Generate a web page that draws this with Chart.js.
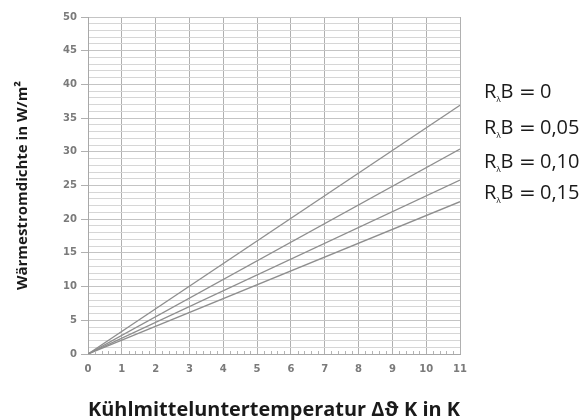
<!DOCTYPE html>
<html>
<head>
<meta charset="utf-8">
<script src="https://cdn.jsdelivr.net/npm/chart.js@4/dist/chart.umd.min.js"></script>
<style>
  html, body { margin: 0; padding: 0; background: #ffffff; }
  #wrap { width: 584px; height: 420px; position: relative; }
</style>
</head>
<body>
<div id="wrap"><canvas id="c" width="584" height="420"></canvas></div>
<script>
// Coolant under-temperature (K) at which each curve is sampled
const deltaT = [0, 11];
// Heat flux density in W/m² for each floor-covering resistance R_λB
const fluxRB000 = [0, 36.9];
const fluxRB005 = [0, 30.4];
const fluxRB010 = [0, 25.8];
const fluxRB015 = [0, 22.6];
// Curve labels, top to bottom
const curveLabels = ['0', '0,05', '0,10', '0,15'];

const xTitle = 'Kühlmitteluntertemperatur Δϑ K in K';
const yTitle = 'Wärmestromdichte in W/m²';

const seriesValues = [fluxRB000, fluxRB005, fluxRB010, fluxRB015];

const datasets = seriesValues.map((vals, i) => ({
  label: 'RλB = ' + curveLabels[i],
  data: deltaT.map((x, j) => ({ x: x, y: vals[j] })),
  borderColor: '#8e8e8e',
  borderWidth: 1.3,
  pointRadius: 0,
  fill: false,
  tension: 0
}));

// Small minor marks along the bottom of the plot every 0.2 K
const minorMarks = {
  id: 'minorMarks',
  afterDatasetsDraw(chart) {
    const { ctx, scales } = chart;
    const xs = scales.x, ys = scales.y;
    const y0 = ys.getPixelForValue(0);
    ctx.save();
    ctx.strokeStyle = '#b4b4b4';
    ctx.lineWidth = 1;
    for (let k = 0; k <= 55; k++) {
      if (k % 5 === 0) continue;
      const px = Math.round(xs.getPixelForValue(k * 0.2)) + 0.5;
      ctx.beginPath();
      ctx.moveTo(px, y0);
      ctx.lineTo(px, y0 - 3);
      ctx.stroke();
    }
    ctx.restore();
  }
};

// Curve captions to the right of the plot: R, subscript λ, then "B = value"
const curveCaptions = {
  id: 'curveCaptions',
  afterDraw(chart) {
    const { ctx, chartArea } = chart;
    const x0 = chartArea.right + 24;
    const baselines = [98, 134, 168, 199];
    const big = '20px "Open Sans"';
    ctx.save();
    ctx.fillStyle = '#1a1a1a';
    ctx.textBaseline = 'alphabetic';
    curveLabels.forEach((lab, i) => {
      const y = baselines[i];
      ctx.font = big;
      ctx.fillText('R', x0, y);
      ctx.font = '8px "Open Sans"';
      ctx.fillText('λ', x0 + 12.5, y + 4);
      ctx.font = big;
      ctx.fillText('B', x0 + 16.5, y);
      ctx.font = '20px "DejaVu Sans"';
      ctx.fillText('=', x0 + 35, y);
      ctx.font = big;
      ctx.fillText(lab, x0 + 56, y);
    });
    ctx.restore();
  }
};

new Chart(document.getElementById('c'), {
  type: 'line',
  data: { datasets: datasets },
  plugins: [minorMarks, curveCaptions],
  options: {
    responsive: false,
    animation: false,
    layout: { padding: { left: 0, right: 124, top: 17, bottom: 0 } },
    plugins: { legend: { display: false }, tooltip: { enabled: false } },
    scales: {
      x: {
        type: 'linear',
        min: 0,
        max: 11,
        afterFit: (s) => { s.height = 66; },
        ticks: {
          stepSize: 1,
          color: '#7a7a7a',
          font: { family: 'DejaVu Sans', size: 10, weight: 'bold' },
          padding: 9
        },
        grid: { color: '#b0b0b0', lineWidth: 1, drawTicks: false },
        border: { color: '#a8a8a8' },
        title: {
          display: true,
          text: xTitle,
          color: '#1a1a1a',
          font: { family: 'Open Sans', size: 20, weight: 'bold', lineHeight: 1 },
          padding: { top: 0, bottom: 0 }
        }
      },
      y: {
        type: 'linear',
        min: 0,
        max: 50,
        afterFit: (s) => { s.width = 88; },
        ticks: {
          stepSize: 1,
          autoSkip: false,
          color: '#7a7a7a',
          font: { family: 'DejaVu Sans', size: 10, weight: 'bold' },
          padding: 4,
          callback: (v) => (v % 5 === 0 ? String(v) : '')
        },
        grid: {
          color: (c) => (c.tick && c.tick.value % 5 === 0 ? '#c4c4c4' : '#d6d6d6'),
          lineWidth: 1,
          tickLength: 7,
          tickColor: (c) => (c.tick && c.tick.value % 5 === 0 ? '#b0b0b0' : 'rgba(0,0,0,0)')
        },
        border: { color: '#a8a8a8' },
        title: {
          display: true,
          text: yTitle,
          color: '#1a1a1a',
          font: { family: 'Open Sans', size: 15, weight: 'bold', lineHeight: 1.2 },
          padding: { top: 14, bottom: 0 }
        }
      }
    }
  }
});
</script>
</body>
</html>
